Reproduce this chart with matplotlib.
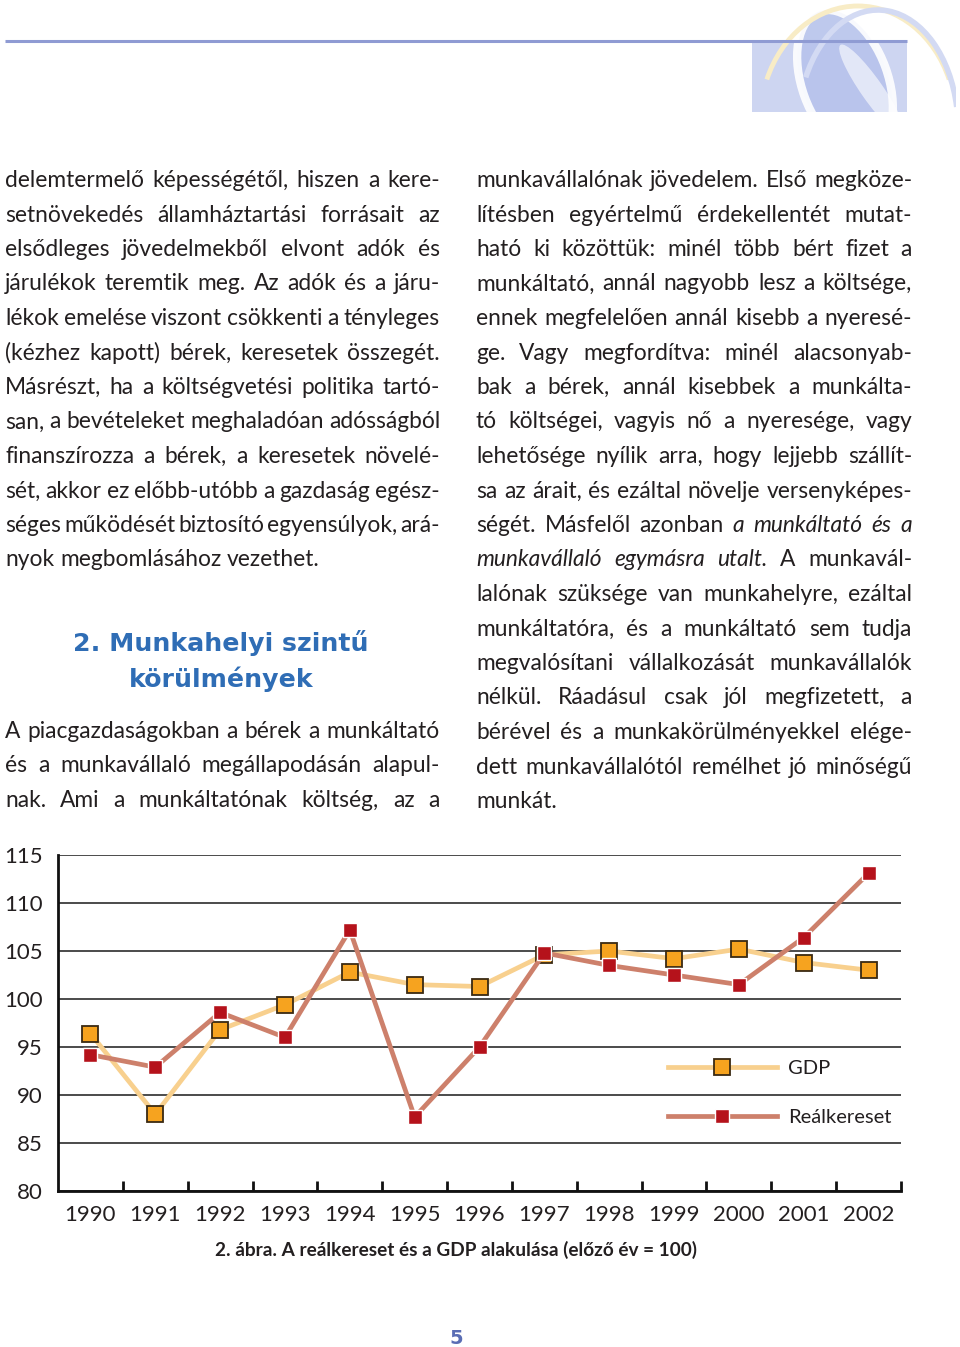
import numpy as np
import matplotlib
matplotlib.use('Agg')
import matplotlib.pyplot as plt
from matplotlib.patches import Rectangle, Ellipse, Arc

# oldal merete pixelben
W, H = 960, 1347
FONT = ['Lato', 'DejaVu Sans']
plt.rcParams['font.family'] = FONT
INK = '#231f20'

# adatok (elozo ev = 100)
years = ['1990', '1991', '1992', '1993', '1994', '1995', '1996',
         '1997', '1998', '1999', '2000', '2001', '2002']
gdp = [96.4, 88.0, 96.8, 99.4, 102.8, 101.5, 101.3,
       104.6, 105.0, 104.2, 105.2, 103.8, 103.0]
real = [94.2, 92.9, 98.6, 96.0, 107.2, 87.7, 95.0,
        104.8, 103.5, 102.5, 101.5, 106.4, 113.1]
yticks = [80, 85, 90, 95, 100, 105, 110, 115]

# szoveg, "_" = dolt betus szo
left_lines = [
    "delemtermelő képességétől, hiszen a kere-",
    "setnövekedés államháztartási forrásait az",
    "elsődleges jövedelmekből elvont adók és",
    "járulékok teremtik meg. Az adók és a járu-",
    "lékok emelése viszont csökkenti a tényleges",
    "(kézhez kapott) bérek, keresetek összegét.",
    "Másrészt, ha a költségvetési politika tartó-",
    "san, a bevételeket meghaladóan adósságból",
    "finanszírozza a bérek, a keresetek növelé-",
    "sét, akkor ez előbb-utóbb a gazdaság egész-",
    "séges működését biztosító egyensúlyok, ará-",
    "nyok megbomlásához vezethet.",
    "A piacgazdaságokban a bérek a munkáltató",
    "és a munkavállaló megállapodásán alapul-",
    "nak. Ami a munkáltatónak költség, az a",
]
right_lines = [
    "munkavállalónak jövedelem. Első megköze-",
    "lítésben egyértelmű érdekellentét mutat-",
    "ható ki közöttük: minél több bért fizet a",
    "munkáltató, annál nagyobb lesz a költsége,",
    "ennek megfelelően annál kisebb a nyeresé-",
    "ge. Vagy megfordítva: minél alacsonyab-",
    "bak a bérek, annál kisebbek a munkálta-",
    "tó költségei, vagyis nő a nyeresége, vagy",
    "lehetősége nyílik arra, hogy lejjebb szállít-",
    "sa az árait, és ezáltal növelje versenyképes-",
    "ségét. Másfelől azonban _a _munkáltató _és _a",
    "_munkavállaló _egymásra _utalt. A munkavál-",
    "lalónak szüksége van munkahelyre, ezáltal",
    "munkáltatóra, és a munkáltató sem tudja",
    "megvalósítani vállalkozását munkavállalók",
    "nélkül. Ráadásul csak jól megfizetett, a",
    "bérével és a munkakörülményekkel elége-",
    "dett munkavállalótól remélhet jó minőségű",
    "munkát.",
]
heading = ["2. Munkahelyi szintű", "körülmények"]
caption = "2. ábra. A reálkereset és a GDP alakulása (előző év = 100)"

fig = plt.figure(figsize=(W / 100, H / 100), dpi=100)
page = fig.add_axes([0, 0, 1, 1])
page.set_xlim(0, W)
page.set_ylim(H, 0)
page.axis('off')
rend = fig.canvas.get_renderer()


def measure(s, size, **kw):
    t = page.text(0, 0, s, fontsize=size, **kw)
    w = t.get_window_extent(rend).width
    t.remove()
    return w


def words_of(line):
    out = []
    for w in line.split():
        if w.startswith('_'):
            out.append((w[1:], 'italic'))
        else:
            out.append((w, 'normal'))
    return out


# betumeret: a legszorosabb sor is elferjen
s0 = 16.0
ratios = []
sp0 = measure('n n', s0) - measure('nn', s0)
for lines, width, ragged in [(left_lines, 435, {11}), (right_lines, 436, {18})]:
    for i, ln in enumerate(lines):
        if i in ragged:
            continue
        ws = words_of(ln)
        tot = sum(measure(w, s0, style=st) for w, st in ws)
        ratios.append(width / (tot + (len(ws) - 1) * 0.5 * sp0))
body_size = min(16.5, s0 * min(ratios))
space = measure('n n', body_size) - measure('nn', body_size)


def put_line(line, x0, x1, y, justify):
    ws = words_of(line)
    wid = [measure(w, body_size, style=st) for w, st in ws]
    if justify and len(ws) > 1:
        gap = (x1 - x0 - sum(wid)) / (len(ws) - 1)
    else:
        gap = space
    x = x0
    for (w, st), ww in zip(ws, wid):
        page.text(x, y, w, fontsize=body_size, style=st, color=INK,
                  ha='left', va='baseline')
        x += ww + gap


for i, ln in enumerate(left_lines):
    y = 187 + 34.5 * i if i < 12 else 738 + 34.5 * (i - 12)
    put_line(ln, 5, 440, y, i != 11)
for i, ln in enumerate(right_lines):
    put_line(ln, 476, 912, 187 + 34.5 * i, i != 18)

# fejezetcim
hs = 16 * 296 / measure(heading[0], 16, family='DejaVu Sans', weight='bold')
for txt, y in zip(heading, [651, 687]):
    page.text(221, y, txt, fontsize=hs, family='DejaVu Sans', weight='bold',
              color='#2f6db5', ha='center', va='baseline')

# abraalairas es oldalszam
cs = 16 * 482 / measure(caption, 16, weight='bold')
page.text(456, 1256, caption, fontsize=cs, weight='bold', color=INK,
          ha='center', va='baseline')
page.text(456, 1344, '5', fontsize=14, family='DejaVu Sans', weight='bold',
          color='#5a6db4', ha='center', va='baseline')

# fejlec: vonal es dekoracio
clip = Rectangle((750, 0), 206, 112, transform=page.transData)
page.add_patch(Rectangle((752, 41), 155, 71, fc='#cdd5f1', ec='none'))
for p in [Ellipse((845, 82), 86, 150, angle=-20, fc='#b7c3ec', ec='white', lw=6, alpha=0.9),
          Ellipse((872, 90), 22, 110, angle=-35, fc='white', ec='none', alpha=0.6),
          Arc((858, 122), 196, 232, theta1=205, theta2=335, color='#f8ecc6', lw=3.5),
          Arc((878, 128), 160, 236, theta1=215, theta2=345, color='#d3daf3', lw=4)]:
    page.add_patch(p)
    p.set_clip_path(clip)
page.plot([5, 907], [41, 41], color='#8f9bd3', lw=2.2, solid_capstyle='butt')

# diagram
ax = fig.add_axes([58 / W, 1 - 1191 / H, (901 - 58) / W, (1191 - 855) / H])
x = np.arange(len(years))
ax.plot(x, gdp, color='#f8d08e', lw=3.4, marker='s', ms=11.5,
        mfc='#f6a31f', mec='#3a2a12', mew=1.3, label='GDP', zorder=3)
ax.plot(x, real, color='#cd806b', lw=3.4, marker='s', ms=10,
        mfc='#b5121b', mec='white', mew=1.0, label='Reálkereset', zorder=4)

ax.set_xlim(-0.5, len(years) - 0.5)
ax.set_ylim(80, 115)
ax.set_yticks(yticks)
ax.set_yticklabels([str(v) for v in yticks])
ax.set_xticks(x)
ax.set_xticklabels(years)
ax.set_xticks(np.arange(0.5, len(years), 1), minor=True)
ax.yaxis.grid(True, color='#1a1a1a', lw=1.1)
ax.set_axisbelow(True)
for s in ['top', 'right']:
    ax.spines[s].set_visible(False)
for s in ['left', 'bottom']:
    ax.spines[s].set_linewidth(2)
    ax.spines[s].set_color('#111111')
ax.tick_params(axis='y', length=0, pad=11, labelsize=16, labelcolor=INK)
ax.tick_params(axis='x', which='major', length=0, pad=10, labelsize=16,
               labelcolor=INK)
ax.tick_params(axis='x', which='minor', direction='in', length=7, width=2,
               color='#111111')

ax.legend(loc='upper left', bbox_to_anchor=((668 - 58) / 843, (1191 - 1060) / 336),
          frameon=False, fontsize=14.5, handlelength=5.4, handletextpad=0.55,
          labelspacing=1.6, borderpad=0, borderaxespad=0, numpoints=1,
          labelcolor=INK)

fig.savefig('out.png', dpi=100, facecolor='white')
